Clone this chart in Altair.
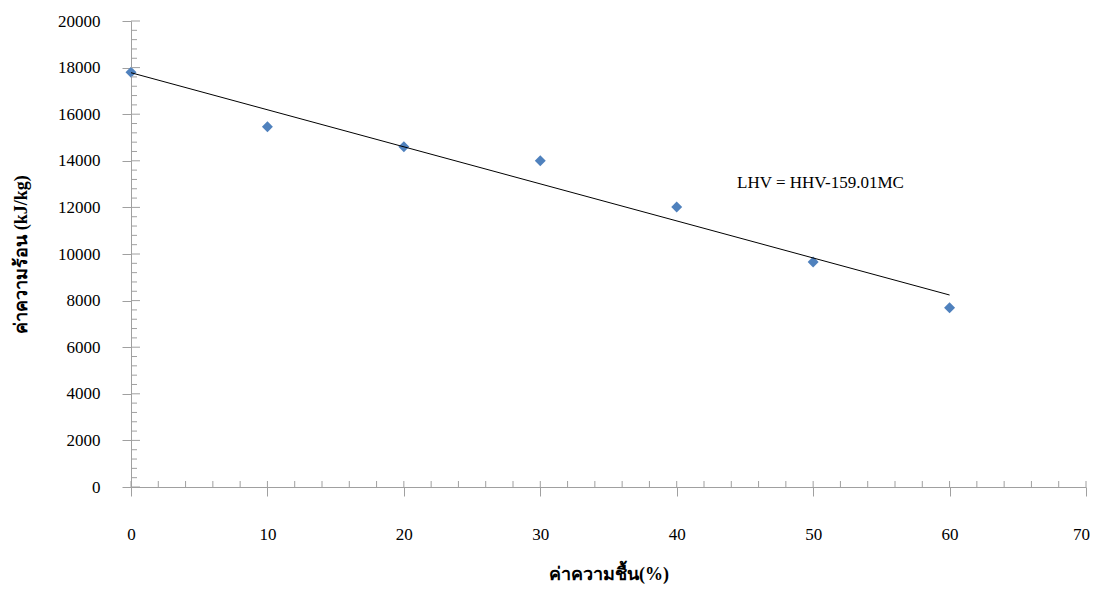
import altair as alt
import pandas as pd

# Data
moisture = [0, 10, 20, 30, 40, 50, 60]
heating_value = [17800, 15460, 14600, 14000, 12020, 9660, 7690]

fit_x = [0, 60]
fit_y = [17780, 8240]

y_major = [0, 2000, 4000, 6000, 8000, 10000, 12000, 14000, 16000, 18000, 20000]
y_minor = [v for v in range(0, 20001, 400) if v % 2000 != 0]
x_major = [0, 10, 20, 30, 40, 50, 60, 70]
x_minor = [v for v in range(0, 71, 2) if v % 10 != 0]

W, H = 955, 466
AXIS_COLOR = "#a0a0a0"
SERIF = "Liberation Serif"

pts = pd.DataFrame({"x": moisture, "y": heating_value})
fit = pd.DataFrame({"x": fit_x, "y": fit_y})

xscale = alt.Scale(domain=[0, 70], nice=False, zero=False)
yscale = alt.Scale(domain=[0, 20000], nice=False)

x_axis = alt.Axis(
    values=x_major, format="d", grid=False, labelFlush=False,
    labelOffset={"expr": "datum.value == 70 ? -5 : 0"},
    domainColor=AXIS_COLOR, tickColor=AXIS_COLOR, tickSize=9, ticks=True,
    labelFont=SERIF, labelFontSize=17, labelColor="#000000", labelPadding=30,
    title="ค่าความชื้น(%)", titleFont=SERIF, titleFontSize=18, titleFontWeight="bold",
    titleColor="#000000", titleX=W / 2, titleY=87, titleBaseline="middle",
)
y_axis = alt.Axis(
    values=y_major, format="d", grid=False, labelFlush=False,
    domainColor=AXIS_COLOR, tickColor=AXIS_COLOR, tickSize=9, ticks=True,
    labelFont=SERIF, labelFontSize=17, labelColor="#000000", labelPadding=22,
    labelAlign="right",
    title="ค่าความร้อน (kJ/kg)", titleFont=SERIF, titleFontSize=18, titleFontWeight="bold",
    titleColor="#000000", titleX=-110, titleY=H / 2, titleBaseline="middle", titleAngle=-90,
)

points = alt.Chart(pts).mark_point(
    shape="diamond", filled=True, size=120, color="#4F81BD", opacity=1
).encode(
    x=alt.X("x:Q", scale=xscale, axis=x_axis),
    y=alt.Y("y:Q", scale=yscale, axis=y_axis),
)

line = alt.Chart(fit).mark_line(color="#000000", strokeWidth=1).encode(
    x=alt.X("x:Q", scale=xscale, axis=x_axis),
    y=alt.Y("y:Q", scale=yscale, axis=y_axis),
)

ymin_df = pd.DataFrame({"v": y_minor})
ymaj_df = pd.DataFrame({"v": y_major})
xmin_df = pd.DataFrame({"v": x_minor})
xmaj_df = pd.DataFrame({"v": x_major})

y_minor_ticks = alt.Chart(ymin_df).mark_rule(color=AXIS_COLOR, strokeWidth=1).encode(
    y=alt.Y("v:Q", scale=yscale, axis=y_axis), x=alt.value(0), x2=alt.value(6)
)
y_major_ticks = alt.Chart(ymaj_df).mark_rule(color=AXIS_COLOR, strokeWidth=1).encode(
    y=alt.Y("v:Q", scale=yscale, axis=y_axis), x=alt.value(0), x2=alt.value(9)
)
x_minor_ticks = alt.Chart(xmin_df).mark_rule(color=AXIS_COLOR, strokeWidth=1).encode(
    x=alt.X("v:Q", scale=xscale, axis=x_axis), y=alt.value(H - 6), y2=alt.value(H)
)
x_major_ticks = alt.Chart(xmaj_df).mark_rule(color=AXIS_COLOR, strokeWidth=1).encode(
    x=alt.X("v:Q", scale=xscale, axis=x_axis), y=alt.value(H - 6), y2=alt.value(H)
)

label = alt.Chart(pd.DataFrame({"t": ["LHV = HHV-159.01MC"]})).mark_text(
    font=SERIF, fontSize=17, color="#000000", align="left", baseline="middle"
).encode(
    text="t:N",
    x=alt.value(737 - 131),
    y=alt.value(183 - 21),
)

chart = alt.layer(
    points, y_minor_ticks, y_major_ticks, x_minor_ticks, x_major_ticks, line, label
).properties(
    width=W, height=H,
    autosize=alt.AutoSizeParams(type="none"),
    padding={"left": 123, "top": 13, "right": 4, "bottom": 99},
).configure_view(stroke=None).configure_axis(domainWidth=1, tickWidth=1)

chart.save("out.html", embed_options={"renderer": "svg", "actions": False})
